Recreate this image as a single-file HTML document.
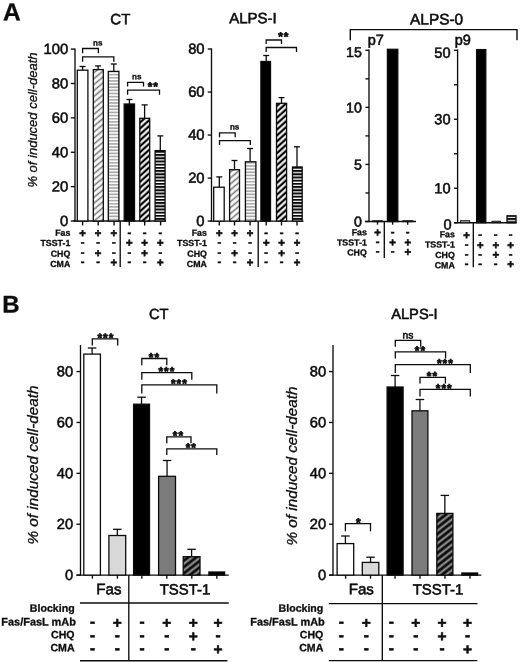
<!DOCTYPE html>
<html><head><meta charset="utf-8"><title>Figure</title>
<style>html,body{margin:0;padding:0;background:#fff}svg{display:block;filter:blur(0.3px)}text{font-family:"Liberation Sans",sans-serif;fill:#0c0c0c}</style>
</head><body>
<svg width="520" height="662" viewBox="0 0 520 662">
<rect width="520" height="662" fill="#fff"/>
<defs>
<pattern id="gd" patternUnits="userSpaceOnUse" width="20" height="4.55" patternTransform="rotate(-40)"><rect width="20" height="4.55" fill="#fff"/><rect y="1.5" width="20" height="1.6" fill="#777"/></pattern>
<pattern id="bd" patternUnits="userSpaceOnUse" width="20" height="4.4" patternTransform="rotate(-42)"><rect width="20" height="4.4" fill="#000"/><rect y="1.1" width="20" height="2.1" fill="#fff"/></pattern>
<pattern id="dd" patternUnits="userSpaceOnUse" width="20" height="5" patternTransform="rotate(-38)"><rect width="20" height="5" fill="#0a0a0a"/><rect y="1.5" width="20" height="2.0" fill="#9c9c9c"/></pattern>
<pattern id="gh" patternUnits="userSpaceOnUse" width="20" height="3.15" y="0.5"><rect width="20" height="3.15" fill="#fff"/><rect y="0.9" width="20" height="1.6" fill="#a6a6a6"/></pattern>
<pattern id="bh" patternUnits="userSpaceOnUse" width="20" height="3.2" y="0.5"><rect width="20" height="3.2" fill="#fff"/><rect y="0" width="20" height="1.95" fill="#0a0a0a"/></pattern>
</defs>
<text transform="translate(3,20.30) rotate(0.03)" font-size="24.5" text-anchor="start" font-weight="bold" font-style="normal" stroke="#0c0c0c" stroke-width="0.3" >A</text>
<text transform="translate(120.3,24.20) rotate(0.03)" font-size="15" text-anchor="middle" font-weight="normal" font-style="normal" stroke="#0c0c0c" stroke-width="0.55" >CT</text>
<text transform="translate(253,23.30) rotate(0.03)" font-size="15" text-anchor="middle" font-weight="normal" font-style="normal" stroke="#0c0c0c" stroke-width="0.55" >ALPS-I</text>
<text transform="translate(436.6,24.60) rotate(0.03)" font-size="15.4" text-anchor="middle" font-weight="normal" font-style="normal" stroke="#0c0c0c" stroke-width="0.55" >ALPS-0</text>
<text transform="translate(36.8,120) rotate(-90)" font-size="13" text-anchor="middle" font-style="italic" stroke="#0c0c0c" stroke-width="0.3">% of induced cell-death</text>
<line x1="75.0" y1="48.4" x2="75.0" y2="221.5" stroke="#0c0c0c" stroke-width="1.35"/>
<line x1="73.5" y1="221.0" x2="166" y2="221.0" stroke="#0c0c0c" stroke-width="1.35"/>
<line x1="70.8" y1="221.0" x2="75.0" y2="221.0" stroke="#0c0c0c" stroke-width="1.35"/>
<text transform="translate(68.3,226.00) rotate(0.03)" font-size="14.8" text-anchor="end" font-weight="normal" font-style="normal" stroke="#0c0c0c" stroke-width="0.55" >0</text>
<line x1="70.8" y1="186.62" x2="75.0" y2="186.62" stroke="#0c0c0c" stroke-width="1.35"/>
<text transform="translate(68.3,191.62) rotate(0.03)" font-size="14.8" text-anchor="end" font-weight="normal" font-style="normal" stroke="#0c0c0c" stroke-width="0.55" >20</text>
<line x1="70.8" y1="152.24" x2="75.0" y2="152.24" stroke="#0c0c0c" stroke-width="1.35"/>
<text transform="translate(68.3,157.24) rotate(0.03)" font-size="14.8" text-anchor="end" font-weight="normal" font-style="normal" stroke="#0c0c0c" stroke-width="0.55" >40</text>
<line x1="70.8" y1="117.86" x2="75.0" y2="117.86" stroke="#0c0c0c" stroke-width="1.35"/>
<text transform="translate(68.3,122.86) rotate(0.03)" font-size="14.8" text-anchor="end" font-weight="normal" font-style="normal" stroke="#0c0c0c" stroke-width="0.55" >60</text>
<line x1="70.8" y1="83.47999999999999" x2="75.0" y2="83.47999999999999" stroke="#0c0c0c" stroke-width="1.35"/>
<text transform="translate(68.3,88.48) rotate(0.03)" font-size="14.8" text-anchor="end" font-weight="normal" font-style="normal" stroke="#0c0c0c" stroke-width="0.55" >80</text>
<line x1="70.8" y1="49.099999999999994" x2="75.0" y2="49.099999999999994" stroke="#0c0c0c" stroke-width="1.35"/>
<text transform="translate(68.3,54.10) rotate(0.03)" font-size="14.8" text-anchor="end" font-weight="normal" font-style="normal" stroke="#0c0c0c" stroke-width="0.55" >100</text>
<line x1="82.6" y1="66.5" x2="82.6" y2="70.2" stroke="#0c0c0c" stroke-width="1.3"/>
<line x1="79.6" y1="66.5" x2="85.6" y2="66.5" stroke="#0c0c0c" stroke-width="1.3"/>
<rect x="77.30" y="70.20" width="10.60" height="150.80" fill="#fff" stroke="#0c0c0c" stroke-width="1.3"/>
<line x1="82.6" y1="221.0" x2="82.6" y2="225.4" stroke="#0c0c0c" stroke-width="1.4"/>
<line x1="98.1" y1="65.9" x2="98.1" y2="69.6" stroke="#0c0c0c" stroke-width="1.3"/>
<line x1="95.1" y1="65.9" x2="101.1" y2="65.9" stroke="#0c0c0c" stroke-width="1.3"/>
<rect x="93.30" y="69.60" width="10.00" height="151.40" fill="url(#gd)" stroke="#0c0c0c" stroke-width="1.3"/>
<line x1="98.2" y1="221.0" x2="98.2" y2="225.4" stroke="#0c0c0c" stroke-width="1.4"/>
<line x1="113.8" y1="64.0" x2="113.8" y2="71.4" stroke="#0c0c0c" stroke-width="1.3"/>
<line x1="110.8" y1="64.0" x2="116.8" y2="64.0" stroke="#0c0c0c" stroke-width="1.3"/>
<rect x="108.30" y="71.40" width="10.60" height="149.60" fill="url(#gh)" stroke="#0c0c0c" stroke-width="1.3"/>
<line x1="114.0" y1="221.0" x2="114.0" y2="225.4" stroke="#0c0c0c" stroke-width="1.4"/>
<line x1="129.4" y1="99.5" x2="129.4" y2="104.0" stroke="#0c0c0c" stroke-width="1.3"/>
<line x1="126.4" y1="99.5" x2="132.4" y2="99.5" stroke="#0c0c0c" stroke-width="1.3"/>
<rect x="124.20" y="104.00" width="10.30" height="117.00" fill="#000" stroke="#0c0c0c" stroke-width="1.3"/>
<line x1="129.3" y1="221.0" x2="129.3" y2="225.4" stroke="#0c0c0c" stroke-width="1.4"/>
<line x1="144.6" y1="104.9" x2="144.6" y2="118.3" stroke="#0c0c0c" stroke-width="1.3"/>
<line x1="141.6" y1="104.9" x2="147.6" y2="104.9" stroke="#0c0c0c" stroke-width="1.3"/>
<rect x="139.80" y="118.30" width="9.90" height="102.70" fill="url(#bd)" stroke="#0c0c0c" stroke-width="1.3"/>
<line x1="144.7" y1="221.0" x2="144.7" y2="225.4" stroke="#0c0c0c" stroke-width="1.4"/>
<line x1="160.3" y1="135.9" x2="160.3" y2="150.6" stroke="#0c0c0c" stroke-width="1.3"/>
<line x1="157.3" y1="135.9" x2="163.3" y2="135.9" stroke="#0c0c0c" stroke-width="1.3"/>
<rect x="155.10" y="150.60" width="10.00" height="70.40" fill="url(#bh)" stroke="#0c0c0c" stroke-width="1.3"/>
<line x1="160.6" y1="221.0" x2="160.6" y2="225.4" stroke="#0c0c0c" stroke-width="1.4"/>
<polyline points="82.6,53.2 82.6,48.5 98.4,48.5 98.4,53.2" fill="none" stroke="#0c0c0c" stroke-width="1.3"/>
<text transform="translate(97.7,45.60) rotate(0.03)" font-size="8.1" text-anchor="middle" font-weight="bold" font-style="normal" stroke="#0c0c0c" stroke-width="0.3" >ns</text>
<polyline points="82.6,61.8 82.6,56.8 113.8,56.8 113.8,61.8" fill="none" stroke="#0c0c0c" stroke-width="1.3"/>
<polyline points="127.6,86.6 127.6,82.3 143.5,82.3 143.5,86.6" fill="none" stroke="#0c0c0c" stroke-width="1.3"/>
<text transform="translate(136.8,79.20) rotate(0.03)" font-size="8.1" text-anchor="middle" font-weight="bold" font-style="normal" stroke="#0c0c0c" stroke-width="0.3" >ns</text>
<polyline points="127.6,94.7 127.6,90.1 159.5,90.1 159.5,94.7" fill="none" stroke="#0c0c0c" stroke-width="1.3"/>
<text transform="translate(153.3,90.50) rotate(0.03)" font-size="11.8" text-anchor="middle" font-weight="bold" font-style="normal"  stroke="#0c0c0c" stroke-width="0.7" letter-spacing="0.9">**</text>
<line x1="120.2" y1="221.0" x2="120.2" y2="267" stroke="#0c0c0c" stroke-width="1.35"/>
<text transform="translate(70.3,235.80) rotate(0.03)" font-size="8.8" text-anchor="end" font-weight="bold" font-style="normal" stroke="#0c0c0c" stroke-width="0.3" >Fas</text>
<text transform="translate(70.3,245.90) rotate(0.03)" font-size="8.8" text-anchor="end" font-weight="bold" font-style="normal" stroke="#0c0c0c" stroke-width="0.3" >TSST-1</text>
<text transform="translate(70.3,256.80) rotate(0.03)" font-size="8.8" text-anchor="end" font-weight="bold" font-style="normal" stroke="#0c0c0c" stroke-width="0.3" >CHQ</text>
<text transform="translate(70.3,267.00) rotate(0.03)" font-size="8.8" text-anchor="end" font-weight="bold" font-style="normal" stroke="#0c0c0c" stroke-width="0.3" >CMA</text>
<text transform="translate(82.6,237.05) rotate(0.03)" font-size="11.33" text-anchor="middle" font-weight="bold" font-style="normal"  stroke="#0c0c0c" stroke-width="0.55">+</text>
<text transform="translate(98.1,237.05) rotate(0.03)" font-size="11.33" text-anchor="middle" font-weight="bold" font-style="normal"  stroke="#0c0c0c" stroke-width="0.55">+</text>
<text transform="translate(113.8,237.05) rotate(0.03)" font-size="11.33" text-anchor="middle" font-weight="bold" font-style="normal"  stroke="#0c0c0c" stroke-width="0.55">+</text>
<text transform="translate(129.4,236.14) rotate(0.03)" font-size="11.22" text-anchor="middle" font-weight="bold" font-style="normal"  stroke="#0c0c0c" stroke-width="0.55">-</text>
<text transform="translate(144.6,236.14) rotate(0.03)" font-size="11.22" text-anchor="middle" font-weight="bold" font-style="normal"  stroke="#0c0c0c" stroke-width="0.55">-</text>
<text transform="translate(160.3,236.14) rotate(0.03)" font-size="11.22" text-anchor="middle" font-weight="bold" font-style="normal"  stroke="#0c0c0c" stroke-width="0.55">-</text>
<text transform="translate(82.6,245.64) rotate(0.03)" font-size="11.22" text-anchor="middle" font-weight="bold" font-style="normal"  stroke="#0c0c0c" stroke-width="0.55">-</text>
<text transform="translate(98.1,245.64) rotate(0.03)" font-size="11.22" text-anchor="middle" font-weight="bold" font-style="normal"  stroke="#0c0c0c" stroke-width="0.55">-</text>
<text transform="translate(113.8,245.64) rotate(0.03)" font-size="11.22" text-anchor="middle" font-weight="bold" font-style="normal"  stroke="#0c0c0c" stroke-width="0.55">-</text>
<text transform="translate(129.4,246.55) rotate(0.03)" font-size="11.33" text-anchor="middle" font-weight="bold" font-style="normal"  stroke="#0c0c0c" stroke-width="0.55">+</text>
<text transform="translate(144.6,246.55) rotate(0.03)" font-size="11.33" text-anchor="middle" font-weight="bold" font-style="normal"  stroke="#0c0c0c" stroke-width="0.55">+</text>
<text transform="translate(160.3,246.55) rotate(0.03)" font-size="11.33" text-anchor="middle" font-weight="bold" font-style="normal"  stroke="#0c0c0c" stroke-width="0.55">+</text>
<text transform="translate(82.6,256.04) rotate(0.03)" font-size="11.22" text-anchor="middle" font-weight="bold" font-style="normal"  stroke="#0c0c0c" stroke-width="0.55">-</text>
<text transform="translate(98.1,256.95) rotate(0.03)" font-size="11.33" text-anchor="middle" font-weight="bold" font-style="normal"  stroke="#0c0c0c" stroke-width="0.55">+</text>
<text transform="translate(113.8,256.04) rotate(0.03)" font-size="11.22" text-anchor="middle" font-weight="bold" font-style="normal"  stroke="#0c0c0c" stroke-width="0.55">-</text>
<text transform="translate(129.4,256.04) rotate(0.03)" font-size="11.22" text-anchor="middle" font-weight="bold" font-style="normal"  stroke="#0c0c0c" stroke-width="0.55">-</text>
<text transform="translate(144.6,256.95) rotate(0.03)" font-size="11.33" text-anchor="middle" font-weight="bold" font-style="normal"  stroke="#0c0c0c" stroke-width="0.55">+</text>
<text transform="translate(160.3,256.04) rotate(0.03)" font-size="11.22" text-anchor="middle" font-weight="bold" font-style="normal"  stroke="#0c0c0c" stroke-width="0.55">-</text>
<text transform="translate(82.6,265.24) rotate(0.03)" font-size="11.22" text-anchor="middle" font-weight="bold" font-style="normal"  stroke="#0c0c0c" stroke-width="0.55">-</text>
<text transform="translate(98.1,265.24) rotate(0.03)" font-size="11.22" text-anchor="middle" font-weight="bold" font-style="normal"  stroke="#0c0c0c" stroke-width="0.55">-</text>
<text transform="translate(113.8,266.15) rotate(0.03)" font-size="11.33" text-anchor="middle" font-weight="bold" font-style="normal"  stroke="#0c0c0c" stroke-width="0.55">+</text>
<text transform="translate(129.4,265.24) rotate(0.03)" font-size="11.22" text-anchor="middle" font-weight="bold" font-style="normal"  stroke="#0c0c0c" stroke-width="0.55">-</text>
<text transform="translate(144.6,265.24) rotate(0.03)" font-size="11.22" text-anchor="middle" font-weight="bold" font-style="normal"  stroke="#0c0c0c" stroke-width="0.55">-</text>
<text transform="translate(160.3,266.15) rotate(0.03)" font-size="11.33" text-anchor="middle" font-weight="bold" font-style="normal"  stroke="#0c0c0c" stroke-width="0.55">+</text>
<line x1="211.5" y1="48.4" x2="211.5" y2="221.6" stroke="#0c0c0c" stroke-width="1.35"/>
<line x1="210.0" y1="221.1" x2="303.5" y2="221.1" stroke="#0c0c0c" stroke-width="1.35"/>
<line x1="207.7" y1="221.1" x2="211.5" y2="221.1" stroke="#0c0c0c" stroke-width="1.35"/>
<text transform="translate(204.6,225.90) rotate(0.03)" font-size="14.8" text-anchor="end" font-weight="normal" font-style="normal" stroke="#0c0c0c" stroke-width="0.55" >0</text>
<line x1="207.7" y1="178.07999999999998" x2="211.5" y2="178.07999999999998" stroke="#0c0c0c" stroke-width="1.35"/>
<text transform="translate(204.6,182.88) rotate(0.03)" font-size="14.8" text-anchor="end" font-weight="normal" font-style="normal" stroke="#0c0c0c" stroke-width="0.55" >20</text>
<line x1="207.7" y1="135.06" x2="211.5" y2="135.06" stroke="#0c0c0c" stroke-width="1.35"/>
<text transform="translate(204.6,139.86) rotate(0.03)" font-size="14.8" text-anchor="end" font-weight="normal" font-style="normal" stroke="#0c0c0c" stroke-width="0.55" >40</text>
<line x1="207.7" y1="92.03999999999999" x2="211.5" y2="92.03999999999999" stroke="#0c0c0c" stroke-width="1.35"/>
<text transform="translate(204.6,96.84) rotate(0.03)" font-size="14.8" text-anchor="end" font-weight="normal" font-style="normal" stroke="#0c0c0c" stroke-width="0.55" >60</text>
<line x1="207.7" y1="49.02000000000001" x2="211.5" y2="49.02000000000001" stroke="#0c0c0c" stroke-width="1.35"/>
<text transform="translate(204.6,53.82) rotate(0.03)" font-size="14.8" text-anchor="end" font-weight="normal" font-style="normal" stroke="#0c0c0c" stroke-width="0.55" >80</text>
<line x1="219.3" y1="176.9" x2="219.3" y2="187.2" stroke="#0c0c0c" stroke-width="1.3"/>
<line x1="216.3" y1="176.9" x2="222.3" y2="176.9" stroke="#0c0c0c" stroke-width="1.3"/>
<rect x="213.70" y="187.20" width="10.50" height="33.90" fill="#fff" stroke="#0c0c0c" stroke-width="1.3"/>
<line x1="219.3" y1="221.1" x2="219.3" y2="225.5" stroke="#0c0c0c" stroke-width="1.4"/>
<line x1="234.5" y1="160.5" x2="234.5" y2="169.7" stroke="#0c0c0c" stroke-width="1.3"/>
<line x1="231.5" y1="160.5" x2="237.5" y2="160.5" stroke="#0c0c0c" stroke-width="1.3"/>
<rect x="229.60" y="169.70" width="9.90" height="51.40" fill="url(#gd)" stroke="#0c0c0c" stroke-width="1.3"/>
<line x1="234.5" y1="221.1" x2="234.5" y2="225.5" stroke="#0c0c0c" stroke-width="1.4"/>
<line x1="250.1" y1="148.5" x2="250.1" y2="161.8" stroke="#0c0c0c" stroke-width="1.3"/>
<line x1="247.1" y1="148.5" x2="253.1" y2="148.5" stroke="#0c0c0c" stroke-width="1.3"/>
<rect x="245.40" y="161.80" width="10.50" height="59.30" fill="url(#gh)" stroke="#0c0c0c" stroke-width="1.3"/>
<line x1="250.1" y1="221.1" x2="250.1" y2="225.5" stroke="#0c0c0c" stroke-width="1.4"/>
<line x1="266.2" y1="55.5" x2="266.2" y2="61.5" stroke="#0c0c0c" stroke-width="1.3"/>
<line x1="263.2" y1="55.5" x2="269.2" y2="55.5" stroke="#0c0c0c" stroke-width="1.3"/>
<rect x="260.90" y="61.50" width="9.60" height="159.60" fill="#000" stroke="#0c0c0c" stroke-width="1.3"/>
<line x1="266.2" y1="221.1" x2="266.2" y2="225.5" stroke="#0c0c0c" stroke-width="1.4"/>
<line x1="281.5" y1="97.6" x2="281.5" y2="103.3" stroke="#0c0c0c" stroke-width="1.3"/>
<line x1="278.5" y1="97.6" x2="284.5" y2="97.6" stroke="#0c0c0c" stroke-width="1.3"/>
<rect x="276.50" y="103.30" width="10.10" height="117.80" fill="url(#bd)" stroke="#0c0c0c" stroke-width="1.3"/>
<line x1="281.5" y1="221.1" x2="281.5" y2="225.5" stroke="#0c0c0c" stroke-width="1.4"/>
<line x1="297.0" y1="146.8" x2="297.0" y2="167.0" stroke="#0c0c0c" stroke-width="1.3"/>
<line x1="294.0" y1="146.8" x2="300.0" y2="146.8" stroke="#0c0c0c" stroke-width="1.3"/>
<rect x="292.50" y="167.00" width="9.70" height="54.10" fill="url(#bh)" stroke="#0c0c0c" stroke-width="1.3"/>
<line x1="297.0" y1="221.1" x2="297.0" y2="225.5" stroke="#0c0c0c" stroke-width="1.4"/>
<polyline points="219.5,137.2 219.5,132.9 235.2,132.9 235.2,137.2" fill="none" stroke="#0c0c0c" stroke-width="1.3"/>
<text transform="translate(234.6,129.60) rotate(0.03)" font-size="8.1" text-anchor="middle" font-weight="bold" font-style="normal" stroke="#0c0c0c" stroke-width="0.3" >ns</text>
<polyline points="219.5,145.1 219.5,140.7 250.3,140.7 250.3,145.1" fill="none" stroke="#0c0c0c" stroke-width="1.3"/>
<polyline points="266.2,44.0 266.2,40.0 281.5,40.0 281.5,44.0" fill="none" stroke="#0c0c0c" stroke-width="1.3"/>
<text transform="translate(283.8,40.60) rotate(0.03)" font-size="11.8" text-anchor="middle" font-weight="bold" font-style="normal"  stroke="#0c0c0c" stroke-width="0.7" letter-spacing="0.9">**</text>
<polyline points="266.2,51.9 266.2,47.5 296.5,47.5 296.5,51.9" fill="none" stroke="#0c0c0c" stroke-width="1.3"/>
<line x1="258.2" y1="221.1" x2="258.2" y2="267" stroke="#0c0c0c" stroke-width="1.35"/>
<text transform="translate(206.9,235.80) rotate(0.03)" font-size="8.8" text-anchor="end" font-weight="bold" font-style="normal" stroke="#0c0c0c" stroke-width="0.3" >Fas</text>
<text transform="translate(206.9,245.90) rotate(0.03)" font-size="8.8" text-anchor="end" font-weight="bold" font-style="normal" stroke="#0c0c0c" stroke-width="0.3" >TSST-1</text>
<text transform="translate(206.9,256.80) rotate(0.03)" font-size="8.8" text-anchor="end" font-weight="bold" font-style="normal" stroke="#0c0c0c" stroke-width="0.3" >CHQ</text>
<text transform="translate(206.9,267.00) rotate(0.03)" font-size="8.8" text-anchor="end" font-weight="bold" font-style="normal" stroke="#0c0c0c" stroke-width="0.3" >CMA</text>
<text transform="translate(219.3,237.05) rotate(0.03)" font-size="11.33" text-anchor="middle" font-weight="bold" font-style="normal"  stroke="#0c0c0c" stroke-width="0.55">+</text>
<text transform="translate(234.5,237.05) rotate(0.03)" font-size="11.33" text-anchor="middle" font-weight="bold" font-style="normal"  stroke="#0c0c0c" stroke-width="0.55">+</text>
<text transform="translate(250.1,237.05) rotate(0.03)" font-size="11.33" text-anchor="middle" font-weight="bold" font-style="normal"  stroke="#0c0c0c" stroke-width="0.55">+</text>
<text transform="translate(266.2,236.14) rotate(0.03)" font-size="11.22" text-anchor="middle" font-weight="bold" font-style="normal"  stroke="#0c0c0c" stroke-width="0.55">-</text>
<text transform="translate(281.5,236.14) rotate(0.03)" font-size="11.22" text-anchor="middle" font-weight="bold" font-style="normal"  stroke="#0c0c0c" stroke-width="0.55">-</text>
<text transform="translate(297.0,236.14) rotate(0.03)" font-size="11.22" text-anchor="middle" font-weight="bold" font-style="normal"  stroke="#0c0c0c" stroke-width="0.55">-</text>
<text transform="translate(219.3,245.64) rotate(0.03)" font-size="11.22" text-anchor="middle" font-weight="bold" font-style="normal"  stroke="#0c0c0c" stroke-width="0.55">-</text>
<text transform="translate(234.5,245.64) rotate(0.03)" font-size="11.22" text-anchor="middle" font-weight="bold" font-style="normal"  stroke="#0c0c0c" stroke-width="0.55">-</text>
<text transform="translate(250.1,245.64) rotate(0.03)" font-size="11.22" text-anchor="middle" font-weight="bold" font-style="normal"  stroke="#0c0c0c" stroke-width="0.55">-</text>
<text transform="translate(266.2,246.55) rotate(0.03)" font-size="11.33" text-anchor="middle" font-weight="bold" font-style="normal"  stroke="#0c0c0c" stroke-width="0.55">+</text>
<text transform="translate(281.5,246.55) rotate(0.03)" font-size="11.33" text-anchor="middle" font-weight="bold" font-style="normal"  stroke="#0c0c0c" stroke-width="0.55">+</text>
<text transform="translate(297.0,246.55) rotate(0.03)" font-size="11.33" text-anchor="middle" font-weight="bold" font-style="normal"  stroke="#0c0c0c" stroke-width="0.55">+</text>
<text transform="translate(219.3,256.04) rotate(0.03)" font-size="11.22" text-anchor="middle" font-weight="bold" font-style="normal"  stroke="#0c0c0c" stroke-width="0.55">-</text>
<text transform="translate(234.5,256.95) rotate(0.03)" font-size="11.33" text-anchor="middle" font-weight="bold" font-style="normal"  stroke="#0c0c0c" stroke-width="0.55">+</text>
<text transform="translate(250.1,256.04) rotate(0.03)" font-size="11.22" text-anchor="middle" font-weight="bold" font-style="normal"  stroke="#0c0c0c" stroke-width="0.55">-</text>
<text transform="translate(266.2,256.04) rotate(0.03)" font-size="11.22" text-anchor="middle" font-weight="bold" font-style="normal"  stroke="#0c0c0c" stroke-width="0.55">-</text>
<text transform="translate(281.5,256.95) rotate(0.03)" font-size="11.33" text-anchor="middle" font-weight="bold" font-style="normal"  stroke="#0c0c0c" stroke-width="0.55">+</text>
<text transform="translate(297.0,256.04) rotate(0.03)" font-size="11.22" text-anchor="middle" font-weight="bold" font-style="normal"  stroke="#0c0c0c" stroke-width="0.55">-</text>
<text transform="translate(219.3,265.24) rotate(0.03)" font-size="11.22" text-anchor="middle" font-weight="bold" font-style="normal"  stroke="#0c0c0c" stroke-width="0.55">-</text>
<text transform="translate(234.5,265.24) rotate(0.03)" font-size="11.22" text-anchor="middle" font-weight="bold" font-style="normal"  stroke="#0c0c0c" stroke-width="0.55">-</text>
<text transform="translate(250.1,266.15) rotate(0.03)" font-size="11.33" text-anchor="middle" font-weight="bold" font-style="normal"  stroke="#0c0c0c" stroke-width="0.55">+</text>
<text transform="translate(266.2,265.24) rotate(0.03)" font-size="11.22" text-anchor="middle" font-weight="bold" font-style="normal"  stroke="#0c0c0c" stroke-width="0.55">-</text>
<text transform="translate(281.5,265.24) rotate(0.03)" font-size="11.22" text-anchor="middle" font-weight="bold" font-style="normal"  stroke="#0c0c0c" stroke-width="0.55">-</text>
<text transform="translate(297.0,266.15) rotate(0.03)" font-size="11.33" text-anchor="middle" font-weight="bold" font-style="normal"  stroke="#0c0c0c" stroke-width="0.55">+</text>
<polyline points="350.3,40.2 350.3,29.6 517,29.6 517,40.2" fill="none" stroke="#0c0c0c" stroke-width="1.4"/>
<text transform="translate(367.8,44.80) rotate(0.03)" font-size="14.5" text-anchor="start" font-weight="normal" font-style="normal" stroke="#0c0c0c" stroke-width="0.55" >p7</text>
<text transform="translate(454.8,44.80) rotate(0.03)" font-size="14.5" text-anchor="start" font-weight="normal" font-style="normal" stroke="#0c0c0c" stroke-width="0.55" >p9</text>
<line x1="369.0" y1="49.5" x2="369.0" y2="222.0" stroke="#0c0c0c" stroke-width="1.35"/>
<line x1="365.0" y1="221.5" x2="416" y2="221.5" stroke="#0c0c0c" stroke-width="1.35"/>
<line x1="365.4" y1="221.5" x2="369.0" y2="221.5" stroke="#0c0c0c" stroke-width="1.35"/>
<line x1="365.4" y1="192.96666666666667" x2="369.0" y2="192.96666666666667" stroke="#0c0c0c" stroke-width="1.35"/>
<line x1="365.4" y1="164.43333333333334" x2="369.0" y2="164.43333333333334" stroke="#0c0c0c" stroke-width="1.35"/>
<line x1="365.4" y1="135.9" x2="369.0" y2="135.9" stroke="#0c0c0c" stroke-width="1.35"/>
<line x1="365.4" y1="107.36666666666667" x2="369.0" y2="107.36666666666667" stroke="#0c0c0c" stroke-width="1.35"/>
<line x1="365.4" y1="78.83333333333334" x2="369.0" y2="78.83333333333334" stroke="#0c0c0c" stroke-width="1.35"/>
<line x1="365.4" y1="50.30000000000001" x2="369.0" y2="50.30000000000001" stroke="#0c0c0c" stroke-width="1.35"/>
<text transform="translate(361.8,226.60) rotate(0.03)" font-size="14.2" text-anchor="end" font-weight="normal" font-style="normal" stroke="#0c0c0c" stroke-width="0.55" >0</text>
<text transform="translate(361.8,169.53) rotate(0.03)" font-size="14.2" text-anchor="end" font-weight="normal" font-style="normal" stroke="#0c0c0c" stroke-width="0.55" >5</text>
<text transform="translate(361.8,112.47) rotate(0.03)" font-size="14.2" text-anchor="end" font-weight="normal" font-style="normal" stroke="#0c0c0c" stroke-width="0.55" >10</text>
<text transform="translate(361.8,57.00) rotate(0.03)" font-size="14.2" text-anchor="end" font-weight="normal" font-style="normal" stroke="#0c0c0c" stroke-width="0.55" >15</text>
<rect x="387.40" y="49.30" width="10.40" height="172.20" fill="#000" stroke="#0c0c0c" stroke-width="1.3"/>
<rect x="372.90" y="220.90" width="9.30" height="0.60" fill="#bbb" stroke="#0c0c0c" stroke-width="1.3"/>
<rect x="403.00" y="220.90" width="9.70" height="0.60" fill="#bbb" stroke="#0c0c0c" stroke-width="1.3"/>
<line x1="377.5" y1="221.5" x2="377.5" y2="224.7" stroke="#0c0c0c" stroke-width="1.35"/>
<line x1="392.6" y1="221.5" x2="392.6" y2="224.7" stroke="#0c0c0c" stroke-width="1.35"/>
<line x1="407.7" y1="221.5" x2="407.7" y2="224.7" stroke="#0c0c0c" stroke-width="1.35"/>
<line x1="384.3" y1="221.5" x2="384.3" y2="258" stroke="#0c0c0c" stroke-width="1.35"/>
<text transform="translate(366.8,235.20) rotate(0.03)" font-size="8.8" text-anchor="end" font-weight="bold" font-style="normal" stroke="#0c0c0c" stroke-width="0.3" >Fas</text>
<text transform="translate(366.8,245.50) rotate(0.03)" font-size="8.8" text-anchor="end" font-weight="bold" font-style="normal" stroke="#0c0c0c" stroke-width="0.3" >TSST-1</text>
<text transform="translate(366.8,255.40) rotate(0.03)" font-size="8.8" text-anchor="end" font-weight="bold" font-style="normal" stroke="#0c0c0c" stroke-width="0.3" >CHQ</text>
<text transform="translate(377.5,236.35) rotate(0.03)" font-size="11.33" text-anchor="middle" font-weight="bold" font-style="normal"  stroke="#0c0c0c" stroke-width="0.55">+</text>
<text transform="translate(392.6,235.44) rotate(0.03)" font-size="11.22" text-anchor="middle" font-weight="bold" font-style="normal"  stroke="#0c0c0c" stroke-width="0.55">-</text>
<text transform="translate(407.7,235.44) rotate(0.03)" font-size="11.22" text-anchor="middle" font-weight="bold" font-style="normal"  stroke="#0c0c0c" stroke-width="0.55">-</text>
<text transform="translate(377.5,245.34) rotate(0.03)" font-size="11.22" text-anchor="middle" font-weight="bold" font-style="normal"  stroke="#0c0c0c" stroke-width="0.55">-</text>
<text transform="translate(392.6,246.25) rotate(0.03)" font-size="11.33" text-anchor="middle" font-weight="bold" font-style="normal"  stroke="#0c0c0c" stroke-width="0.55">+</text>
<text transform="translate(407.7,246.25) rotate(0.03)" font-size="11.33" text-anchor="middle" font-weight="bold" font-style="normal"  stroke="#0c0c0c" stroke-width="0.55">+</text>
<text transform="translate(377.5,254.84) rotate(0.03)" font-size="11.22" text-anchor="middle" font-weight="bold" font-style="normal"  stroke="#0c0c0c" stroke-width="0.55">-</text>
<text transform="translate(392.6,254.84) rotate(0.03)" font-size="11.22" text-anchor="middle" font-weight="bold" font-style="normal"  stroke="#0c0c0c" stroke-width="0.55">-</text>
<text transform="translate(407.7,255.75) rotate(0.03)" font-size="11.33" text-anchor="middle" font-weight="bold" font-style="normal"  stroke="#0c0c0c" stroke-width="0.55">+</text>
<line x1="457.6" y1="49.5" x2="457.6" y2="223.2" stroke="#0c0c0c" stroke-width="1.35"/>
<line x1="454.0" y1="222.7" x2="516.6" y2="222.7" stroke="#0c0c0c" stroke-width="1.35"/>
<line x1="454.0" y1="222.7" x2="457.6" y2="222.7" stroke="#0c0c0c" stroke-width="1.35"/>
<line x1="454.0" y1="188.22" x2="457.6" y2="188.22" stroke="#0c0c0c" stroke-width="1.35"/>
<line x1="454.0" y1="153.74" x2="457.6" y2="153.74" stroke="#0c0c0c" stroke-width="1.35"/>
<line x1="454.0" y1="119.26" x2="457.6" y2="119.26" stroke="#0c0c0c" stroke-width="1.35"/>
<line x1="454.0" y1="84.78" x2="457.6" y2="84.78" stroke="#0c0c0c" stroke-width="1.35"/>
<line x1="454.0" y1="50.30000000000001" x2="457.6" y2="50.30000000000001" stroke="#0c0c0c" stroke-width="1.35"/>
<text transform="translate(451.6,229.60) rotate(0.03)" font-size="14.6" text-anchor="end" font-weight="normal" font-style="normal" stroke="#0c0c0c" stroke-width="0.55" >0</text>
<text transform="translate(450.6,193.32) rotate(0.03)" font-size="14.6" text-anchor="end" font-weight="normal" font-style="normal" stroke="#0c0c0c" stroke-width="0.55" >10</text>
<text transform="translate(450.6,124.36) rotate(0.03)" font-size="14.6" text-anchor="end" font-weight="normal" font-style="normal" stroke="#0c0c0c" stroke-width="0.55" >30</text>
<text transform="translate(450.6,57.70) rotate(0.03)" font-size="14.6" text-anchor="end" font-weight="normal" font-style="normal" stroke="#0c0c0c" stroke-width="0.55" >50</text>
<rect x="460.40" y="220.70" width="9.30" height="2.00" fill="#aaa" stroke="#0c0c0c" stroke-width="0.9"/>
<rect x="476.60" y="49.60" width="9.20" height="173.10" fill="#000" stroke="#0c0c0c" stroke-width="1.3"/>
<rect x="492.00" y="221.20" width="8.40" height="1.50" fill="#666" stroke="#0c0c0c" stroke-width="0.9"/>
<rect x="507.00" y="215.80" width="9.00" height="6.90" fill="url(#bh)" stroke="#0c0c0c" stroke-width="1.3"/>
<line x1="473.3" y1="222.7" x2="473.3" y2="267.3" stroke="#0c0c0c" stroke-width="1.35"/>
<text transform="translate(454.8,237.30) rotate(0.03)" font-size="8.8" text-anchor="end" font-weight="bold" font-style="normal" stroke="#0c0c0c" stroke-width="0.3" >Fas</text>
<text transform="translate(454.8,247.40) rotate(0.03)" font-size="8.8" text-anchor="end" font-weight="bold" font-style="normal" stroke="#0c0c0c" stroke-width="0.3" >TSST-1</text>
<text transform="translate(454.8,258.00) rotate(0.03)" font-size="8.8" text-anchor="end" font-weight="bold" font-style="normal" stroke="#0c0c0c" stroke-width="0.3" >CHQ</text>
<text transform="translate(454.8,268.20) rotate(0.03)" font-size="8.8" text-anchor="end" font-weight="bold" font-style="normal" stroke="#0c0c0c" stroke-width="0.3" >CMA</text>
<text transform="translate(466.6,238.95) rotate(0.03)" font-size="11.33" text-anchor="middle" font-weight="bold" font-style="normal"  stroke="#0c0c0c" stroke-width="0.55">+</text>
<text transform="translate(480.2,238.04) rotate(0.03)" font-size="11.22" text-anchor="middle" font-weight="bold" font-style="normal"  stroke="#0c0c0c" stroke-width="0.55">-</text>
<text transform="translate(495.7,238.04) rotate(0.03)" font-size="11.22" text-anchor="middle" font-weight="bold" font-style="normal"  stroke="#0c0c0c" stroke-width="0.55">-</text>
<text transform="translate(510.5,238.04) rotate(0.03)" font-size="11.22" text-anchor="middle" font-weight="bold" font-style="normal"  stroke="#0c0c0c" stroke-width="0.55">-</text>
<text transform="translate(466.6,248.04) rotate(0.03)" font-size="11.22" text-anchor="middle" font-weight="bold" font-style="normal"  stroke="#0c0c0c" stroke-width="0.55">-</text>
<text transform="translate(480.2,248.95) rotate(0.03)" font-size="11.33" text-anchor="middle" font-weight="bold" font-style="normal"  stroke="#0c0c0c" stroke-width="0.55">+</text>
<text transform="translate(495.7,248.95) rotate(0.03)" font-size="11.33" text-anchor="middle" font-weight="bold" font-style="normal"  stroke="#0c0c0c" stroke-width="0.55">+</text>
<text transform="translate(510.5,248.95) rotate(0.03)" font-size="11.33" text-anchor="middle" font-weight="bold" font-style="normal"  stroke="#0c0c0c" stroke-width="0.55">+</text>
<text transform="translate(466.6,257.64) rotate(0.03)" font-size="11.22" text-anchor="middle" font-weight="bold" font-style="normal"  stroke="#0c0c0c" stroke-width="0.55">-</text>
<text transform="translate(480.2,257.64) rotate(0.03)" font-size="11.22" text-anchor="middle" font-weight="bold" font-style="normal"  stroke="#0c0c0c" stroke-width="0.55">-</text>
<text transform="translate(495.7,258.55) rotate(0.03)" font-size="11.33" text-anchor="middle" font-weight="bold" font-style="normal"  stroke="#0c0c0c" stroke-width="0.55">+</text>
<text transform="translate(510.5,257.64) rotate(0.03)" font-size="11.22" text-anchor="middle" font-weight="bold" font-style="normal"  stroke="#0c0c0c" stroke-width="0.55">-</text>
<text transform="translate(466.6,267.14) rotate(0.03)" font-size="11.22" text-anchor="middle" font-weight="bold" font-style="normal"  stroke="#0c0c0c" stroke-width="0.55">-</text>
<text transform="translate(480.2,267.14) rotate(0.03)" font-size="11.22" text-anchor="middle" font-weight="bold" font-style="normal"  stroke="#0c0c0c" stroke-width="0.55">-</text>
<text transform="translate(495.7,267.14) rotate(0.03)" font-size="11.22" text-anchor="middle" font-weight="bold" font-style="normal"  stroke="#0c0c0c" stroke-width="0.55">-</text>
<text transform="translate(510.5,268.05) rotate(0.03)" font-size="11.33" text-anchor="middle" font-weight="bold" font-style="normal"  stroke="#0c0c0c" stroke-width="0.55">+</text>
<text transform="translate(2.2,312.60) rotate(0.03)" font-size="24" text-anchor="start" font-weight="bold" font-style="normal" stroke="#0c0c0c" stroke-width="0.3" >B</text>
<text transform="translate(158.8,318.90) rotate(0.03)" font-size="14.7" text-anchor="middle" font-weight="normal" font-style="normal" stroke="#0c0c0c" stroke-width="0.55" >CT</text>
<text transform="translate(414.4,318.90) rotate(0.03)" font-size="14.7" text-anchor="middle" font-weight="normal" font-style="normal" stroke="#0c0c0c" stroke-width="0.55" >ALPS-I</text>
<text transform="translate(38,465) rotate(-90)" font-size="15.3" text-anchor="middle" font-style="italic" stroke="#0c0c0c" stroke-width="0.3">% of induced cell-death</text>
<text transform="translate(297.0,466) rotate(-90)" font-size="15.3" text-anchor="middle" font-style="italic" stroke="#0c0c0c" stroke-width="0.3">% of induced cell-death</text>
<line x1="80.5" y1="345" x2="80.5" y2="575.6" stroke="#0c0c0c" stroke-width="1.35"/>
<line x1="76.5" y1="575.1" x2="228.7" y2="575.1" stroke="#0c0c0c" stroke-width="1.35"/>
<line x1="76.5" y1="575.1" x2="80.5" y2="575.1" stroke="#0c0c0c" stroke-width="1.35"/>
<text transform="translate(73.2,579.90) rotate(0.03)" font-size="14.7" text-anchor="end" font-weight="normal" font-style="normal" stroke="#0c0c0c" stroke-width="0.55" >0</text>
<line x1="76.5" y1="524.22" x2="80.5" y2="524.22" stroke="#0c0c0c" stroke-width="1.35"/>
<text transform="translate(73.2,529.02) rotate(0.03)" font-size="14.7" text-anchor="end" font-weight="normal" font-style="normal" stroke="#0c0c0c" stroke-width="0.55" >20</text>
<line x1="76.5" y1="473.34000000000003" x2="80.5" y2="473.34000000000003" stroke="#0c0c0c" stroke-width="1.35"/>
<text transform="translate(73.2,478.14) rotate(0.03)" font-size="14.7" text-anchor="end" font-weight="normal" font-style="normal" stroke="#0c0c0c" stroke-width="0.55" >40</text>
<line x1="76.5" y1="422.46000000000004" x2="80.5" y2="422.46000000000004" stroke="#0c0c0c" stroke-width="1.35"/>
<text transform="translate(73.2,427.26) rotate(0.03)" font-size="14.7" text-anchor="end" font-weight="normal" font-style="normal" stroke="#0c0c0c" stroke-width="0.55" >60</text>
<line x1="76.5" y1="371.58000000000004" x2="80.5" y2="371.58000000000004" stroke="#0c0c0c" stroke-width="1.35"/>
<text transform="translate(73.2,376.38) rotate(0.03)" font-size="14.7" text-anchor="end" font-weight="normal" font-style="normal" stroke="#0c0c0c" stroke-width="0.55" >80</text>
<line x1="92.1" y1="348.0" x2="92.1" y2="354.1" stroke="#0c0c0c" stroke-width="1.3"/>
<line x1="87.85" y1="348.0" x2="96.35" y2="348.0" stroke="#0c0c0c" stroke-width="1.3"/>
<rect x="83.80" y="354.10" width="16.60" height="221.00" fill="#fff" stroke="#0c0c0c" stroke-width="1.3"/>
<line x1="117.30000000000001" y1="529.3" x2="117.30000000000001" y2="535.5" stroke="#0c0c0c" stroke-width="1.3"/>
<line x1="113.05000000000001" y1="529.3" x2="121.55000000000001" y2="529.3" stroke="#0c0c0c" stroke-width="1.3"/>
<rect x="108.90" y="535.50" width="16.80" height="39.60" fill="#d9d9d9" stroke="#0c0c0c" stroke-width="1.3"/>
<line x1="141.55" y1="397.2" x2="141.55" y2="404.2" stroke="#0c0c0c" stroke-width="1.3"/>
<line x1="137.3" y1="397.2" x2="145.8" y2="397.2" stroke="#0c0c0c" stroke-width="1.3"/>
<rect x="133.60" y="404.20" width="15.90" height="170.90" fill="#000" stroke="#0c0c0c" stroke-width="1.3"/>
<line x1="167.05" y1="460.5" x2="167.05" y2="476.3" stroke="#0c0c0c" stroke-width="1.3"/>
<line x1="162.8" y1="460.5" x2="171.3" y2="460.5" stroke="#0c0c0c" stroke-width="1.3"/>
<rect x="158.60" y="476.30" width="16.90" height="98.80" fill="#7b7b7b" stroke="#0c0c0c" stroke-width="1.3"/>
<line x1="191.6" y1="549.3" x2="191.6" y2="556.7" stroke="#0c0c0c" stroke-width="1.3"/>
<line x1="187.35" y1="549.3" x2="195.85" y2="549.3" stroke="#0c0c0c" stroke-width="1.3"/>
<rect x="183.20" y="556.70" width="16.80" height="18.40" fill="url(#dd)" stroke="#0c0c0c" stroke-width="1.3"/>
<rect x="208.90" y="572.00" width="15.70" height="3.10" fill="#000" stroke="#0c0c0c" stroke-width="1.3"/>
<line x1="92.4" y1="575.1" x2="92.4" y2="578.7" stroke="#0c0c0c" stroke-width="1.35"/>
<line x1="117.4" y1="575.1" x2="117.4" y2="578.7" stroke="#0c0c0c" stroke-width="1.35"/>
<line x1="141.8" y1="575.1" x2="141.8" y2="578.7" stroke="#0c0c0c" stroke-width="1.35"/>
<line x1="166.8" y1="575.1" x2="166.8" y2="578.7" stroke="#0c0c0c" stroke-width="1.35"/>
<line x1="191.8" y1="575.1" x2="191.8" y2="578.7" stroke="#0c0c0c" stroke-width="1.35"/>
<line x1="216.8" y1="575.1" x2="216.8" y2="578.7" stroke="#0c0c0c" stroke-width="1.35"/>
<polyline points="92.3,345.5 92.3,338.9 117.7,338.9 117.7,345.5" fill="none" stroke="#0c0c0c" stroke-width="1.3"/>
<text transform="translate(105.85000000000001,341.67) rotate(0.03)" font-size="11.8" text-anchor="middle" font-weight="bold" font-style="normal"  stroke="#0c0c0c" stroke-width="0.7" letter-spacing="1.05">***</text>
<polyline points="141.8,365.3 141.8,358.5 166.8,358.5 166.8,365.3" fill="none" stroke="#0c0c0c" stroke-width="1.3"/>
<text transform="translate(154.45,361.27) rotate(0.03)" font-size="11.8" text-anchor="middle" font-weight="bold" font-style="normal"  stroke="#0c0c0c" stroke-width="0.7" letter-spacing="1.05">**</text>
<polyline points="141.8,379.8 141.8,372.6 191.8,372.6 191.8,379.8" fill="none" stroke="#0c0c0c" stroke-width="1.3"/>
<text transform="translate(166.85,375.37) rotate(0.03)" font-size="11.8" text-anchor="middle" font-weight="bold" font-style="normal"  stroke="#0c0c0c" stroke-width="0.7" letter-spacing="1.05">***</text>
<polyline points="141.8,393.6 141.8,384.8 216.8,384.8 216.8,393.6" fill="none" stroke="#0c0c0c" stroke-width="1.3"/>
<text transform="translate(179.45,387.57) rotate(0.03)" font-size="11.8" text-anchor="middle" font-weight="bold" font-style="normal"  stroke="#0c0c0c" stroke-width="0.7" letter-spacing="1.05">***</text>
<polyline points="166.8,443.3 166.8,436.8 191.0,436.8 191.0,443.3" fill="none" stroke="#0c0c0c" stroke-width="1.3"/>
<text transform="translate(178.45,439.57) rotate(0.03)" font-size="11.8" text-anchor="middle" font-weight="bold" font-style="normal"  stroke="#0c0c0c" stroke-width="0.7" letter-spacing="1.05">**</text>
<polyline points="166.8,455 166.8,448.8 216.8,448.8 216.8,455" fill="none" stroke="#0c0c0c" stroke-width="1.3"/>
<text transform="translate(191.35,451.57) rotate(0.03)" font-size="11.8" text-anchor="middle" font-weight="bold" font-style="normal"  stroke="#0c0c0c" stroke-width="0.7" letter-spacing="1.05">**</text>
<text transform="translate(108.9,594.30) rotate(0.03)" font-size="15.1" text-anchor="middle" font-weight="normal" font-style="normal" stroke="#0c0c0c" stroke-width="0.55" >Fas</text>
<text transform="translate(185,594.60) rotate(0.03)" font-size="14.9" text-anchor="middle" font-weight="normal" font-style="normal" stroke="#0c0c0c" stroke-width="0.55" >TSST-1</text>
<line x1="80" y1="603.0" x2="228.7" y2="603.0" stroke="#0c0c0c" stroke-width="1.35"/>
<line x1="80" y1="660.7" x2="227.5" y2="660.7" stroke="#0c0c0c" stroke-width="1.35"/>
<line x1="128.8" y1="575.1" x2="128.8" y2="661" stroke="#0c0c0c" stroke-width="1.35"/>
<text transform="translate(74.6,611.80) rotate(0.03)" font-size="10.6" text-anchor="end" font-weight="bold" font-style="normal" stroke="#0c0c0c" stroke-width="0.3" >Blocking</text>
<text transform="translate(75.9,625.50) rotate(0.03)" font-size="10.95" text-anchor="end" font-weight="bold" font-style="normal" stroke="#0c0c0c" stroke-width="0.3" >Fas/FasL mAb</text>
<text transform="translate(74.6,638.30) rotate(0.03)" font-size="10.6" text-anchor="end" font-weight="bold" font-style="normal" stroke="#0c0c0c" stroke-width="0.3" >CHQ</text>
<text transform="translate(74.6,651.30) rotate(0.03)" font-size="10.6" text-anchor="end" font-weight="bold" font-style="normal" stroke="#0c0c0c" stroke-width="0.3" >CMA</text>
<text transform="translate(92.5,626.81) rotate(0.03)" font-size="15.3" text-anchor="middle" font-weight="bold" font-style="normal"  stroke="#0c0c0c" stroke-width="0.55">-</text>
<text transform="translate(117.3,628.05) rotate(0.03)" font-size="15.450000000000001" text-anchor="middle" font-weight="bold" font-style="normal"  stroke="#0c0c0c" stroke-width="0.55">+</text>
<text transform="translate(142,626.81) rotate(0.03)" font-size="15.3" text-anchor="middle" font-weight="bold" font-style="normal"  stroke="#0c0c0c" stroke-width="0.55">-</text>
<text transform="translate(166.8,628.05) rotate(0.03)" font-size="15.450000000000001" text-anchor="middle" font-weight="bold" font-style="normal"  stroke="#0c0c0c" stroke-width="0.55">+</text>
<text transform="translate(193.2,628.05) rotate(0.03)" font-size="15.450000000000001" text-anchor="middle" font-weight="bold" font-style="normal"  stroke="#0c0c0c" stroke-width="0.55">+</text>
<text transform="translate(218,628.05) rotate(0.03)" font-size="15.450000000000001" text-anchor="middle" font-weight="bold" font-style="normal"  stroke="#0c0c0c" stroke-width="0.55">+</text>
<text transform="translate(92.5,640.31) rotate(0.03)" font-size="15.3" text-anchor="middle" font-weight="bold" font-style="normal"  stroke="#0c0c0c" stroke-width="0.55">-</text>
<text transform="translate(117.3,640.31) rotate(0.03)" font-size="15.3" text-anchor="middle" font-weight="bold" font-style="normal"  stroke="#0c0c0c" stroke-width="0.55">-</text>
<text transform="translate(142,640.31) rotate(0.03)" font-size="15.3" text-anchor="middle" font-weight="bold" font-style="normal"  stroke="#0c0c0c" stroke-width="0.55">-</text>
<text transform="translate(166.8,640.31) rotate(0.03)" font-size="15.3" text-anchor="middle" font-weight="bold" font-style="normal"  stroke="#0c0c0c" stroke-width="0.55">-</text>
<text transform="translate(193.2,641.55) rotate(0.03)" font-size="15.450000000000001" text-anchor="middle" font-weight="bold" font-style="normal"  stroke="#0c0c0c" stroke-width="0.55">+</text>
<text transform="translate(218,640.31) rotate(0.03)" font-size="15.3" text-anchor="middle" font-weight="bold" font-style="normal"  stroke="#0c0c0c" stroke-width="0.55">-</text>
<text transform="translate(92.5,653.31) rotate(0.03)" font-size="15.3" text-anchor="middle" font-weight="bold" font-style="normal"  stroke="#0c0c0c" stroke-width="0.55">-</text>
<text transform="translate(117.3,653.31) rotate(0.03)" font-size="15.3" text-anchor="middle" font-weight="bold" font-style="normal"  stroke="#0c0c0c" stroke-width="0.55">-</text>
<text transform="translate(142,653.31) rotate(0.03)" font-size="15.3" text-anchor="middle" font-weight="bold" font-style="normal"  stroke="#0c0c0c" stroke-width="0.55">-</text>
<text transform="translate(166.8,653.31) rotate(0.03)" font-size="15.3" text-anchor="middle" font-weight="bold" font-style="normal"  stroke="#0c0c0c" stroke-width="0.55">-</text>
<text transform="translate(193.2,653.31) rotate(0.03)" font-size="15.3" text-anchor="middle" font-weight="bold" font-style="normal"  stroke="#0c0c0c" stroke-width="0.55">-</text>
<text transform="translate(218,654.55) rotate(0.03)" font-size="15.450000000000001" text-anchor="middle" font-weight="bold" font-style="normal"  stroke="#0c0c0c" stroke-width="0.55">+</text>
<line x1="333" y1="345" x2="333" y2="575.6" stroke="#0c0c0c" stroke-width="1.35"/>
<line x1="329" y1="575.1" x2="481.3" y2="575.1" stroke="#0c0c0c" stroke-width="1.35"/>
<line x1="329" y1="575.1" x2="333" y2="575.1" stroke="#0c0c0c" stroke-width="1.35"/>
<text transform="translate(326.2,579.90) rotate(0.03)" font-size="14.7" text-anchor="end" font-weight="normal" font-style="normal" stroke="#0c0c0c" stroke-width="0.55" >0</text>
<line x1="329" y1="524.22" x2="333" y2="524.22" stroke="#0c0c0c" stroke-width="1.35"/>
<text transform="translate(326.2,529.02) rotate(0.03)" font-size="14.7" text-anchor="end" font-weight="normal" font-style="normal" stroke="#0c0c0c" stroke-width="0.55" >20</text>
<line x1="329" y1="473.34000000000003" x2="333" y2="473.34000000000003" stroke="#0c0c0c" stroke-width="1.35"/>
<text transform="translate(326.2,478.14) rotate(0.03)" font-size="14.7" text-anchor="end" font-weight="normal" font-style="normal" stroke="#0c0c0c" stroke-width="0.55" >40</text>
<line x1="329" y1="422.46000000000004" x2="333" y2="422.46000000000004" stroke="#0c0c0c" stroke-width="1.35"/>
<text transform="translate(326.2,427.26) rotate(0.03)" font-size="14.7" text-anchor="end" font-weight="normal" font-style="normal" stroke="#0c0c0c" stroke-width="0.55" >60</text>
<line x1="329" y1="371.58000000000004" x2="333" y2="371.58000000000004" stroke="#0c0c0c" stroke-width="1.35"/>
<text transform="translate(326.2,376.38) rotate(0.03)" font-size="14.7" text-anchor="end" font-weight="normal" font-style="normal" stroke="#0c0c0c" stroke-width="0.55" >80</text>
<line x1="345.4" y1="536.0" x2="345.4" y2="543.6" stroke="#0c0c0c" stroke-width="1.3"/>
<line x1="341.15" y1="536.0" x2="349.65" y2="536.0" stroke="#0c0c0c" stroke-width="1.3"/>
<rect x="337.10" y="543.60" width="16.60" height="31.50" fill="#fff" stroke="#0c0c0c" stroke-width="1.3"/>
<line x1="370.55" y1="557.2" x2="370.55" y2="562.4" stroke="#0c0c0c" stroke-width="1.3"/>
<line x1="366.3" y1="557.2" x2="374.8" y2="557.2" stroke="#0c0c0c" stroke-width="1.3"/>
<rect x="362.30" y="562.40" width="16.50" height="12.70" fill="#d9d9d9" stroke="#0c0c0c" stroke-width="1.3"/>
<line x1="395.1" y1="375.5" x2="395.1" y2="387" stroke="#0c0c0c" stroke-width="1.3"/>
<line x1="390.85" y1="375.5" x2="399.35" y2="375.5" stroke="#0c0c0c" stroke-width="1.3"/>
<rect x="387.10" y="387.00" width="16.00" height="188.10" fill="#000" stroke="#0c0c0c" stroke-width="1.3"/>
<line x1="419.95" y1="399.5" x2="419.95" y2="410.8" stroke="#0c0c0c" stroke-width="1.3"/>
<line x1="415.7" y1="399.5" x2="424.2" y2="399.5" stroke="#0c0c0c" stroke-width="1.3"/>
<rect x="412.00" y="410.80" width="15.90" height="164.30" fill="#7b7b7b" stroke="#0c0c0c" stroke-width="1.3"/>
<line x1="444.85" y1="495.4" x2="444.85" y2="513.4" stroke="#0c0c0c" stroke-width="1.3"/>
<line x1="440.6" y1="495.4" x2="449.1" y2="495.4" stroke="#0c0c0c" stroke-width="1.3"/>
<rect x="436.80" y="513.40" width="16.10" height="61.70" fill="url(#dd)" stroke="#0c0c0c" stroke-width="1.3"/>
<rect x="461.90" y="573.00" width="15.70" height="2.10" fill="#000" stroke="#0c0c0c" stroke-width="1.3"/>
<line x1="345.6" y1="575.1" x2="345.6" y2="578.7" stroke="#0c0c0c" stroke-width="1.35"/>
<line x1="370.5" y1="575.1" x2="370.5" y2="578.7" stroke="#0c0c0c" stroke-width="1.35"/>
<line x1="395" y1="575.1" x2="395" y2="578.7" stroke="#0c0c0c" stroke-width="1.35"/>
<line x1="420" y1="575.1" x2="420" y2="578.7" stroke="#0c0c0c" stroke-width="1.35"/>
<line x1="445" y1="575.1" x2="445" y2="578.7" stroke="#0c0c0c" stroke-width="1.35"/>
<line x1="470" y1="575.1" x2="470" y2="578.7" stroke="#0c0c0c" stroke-width="1.35"/>
<polyline points="395.3,346.8 395.3,340.3 420.7,340.3 420.7,346.8" fill="none" stroke="#0c0c0c" stroke-width="1.3"/>
<text transform="translate(408,338.60) rotate(0.03)" font-size="10.3" text-anchor="middle" font-weight="normal" font-style="normal" stroke="#0c0c0c" stroke-width="0.55" >ns</text>
<polyline points="395.3,358.5 395.3,351.8 445.6,351.8 445.6,358.5" fill="none" stroke="#0c0c0c" stroke-width="1.3"/>
<text transform="translate(420.45,354.57) rotate(0.03)" font-size="11.8" text-anchor="middle" font-weight="bold" font-style="normal"  stroke="#0c0c0c" stroke-width="0.7" letter-spacing="1.05">**</text>
<polyline points="395.3,373 395.3,364.6 470.3,364.6 470.3,373" fill="none" stroke="#0c0c0c" stroke-width="1.3"/>
<text transform="translate(445.45,367.37) rotate(0.03)" font-size="11.8" text-anchor="middle" font-weight="bold" font-style="normal"  stroke="#0c0c0c" stroke-width="0.7" letter-spacing="1.05">***</text>
<polyline points="420,383.5 420,377.3 445.4,377.3 445.4,383.5" fill="none" stroke="#0c0c0c" stroke-width="1.3"/>
<text transform="translate(432.45,380.07) rotate(0.03)" font-size="11.8" text-anchor="middle" font-weight="bold" font-style="normal"  stroke="#0c0c0c" stroke-width="0.7" letter-spacing="1.05">**</text>
<polyline points="420,396.5 420,389.4 470.3,389.4 470.3,396.5" fill="none" stroke="#0c0c0c" stroke-width="1.3"/>
<text transform="translate(444.25,392.17) rotate(0.03)" font-size="11.8" text-anchor="middle" font-weight="bold" font-style="normal"  stroke="#0c0c0c" stroke-width="0.7" letter-spacing="1.05">***</text>
<polyline points="345.4,531.2 345.4,523.7 370.5,523.7 370.5,531.2" fill="none" stroke="#0c0c0c" stroke-width="1.3"/>
<text transform="translate(358.95,526.47) rotate(0.03)" font-size="11.8" text-anchor="middle" font-weight="bold" font-style="normal"  stroke="#0c0c0c" stroke-width="0.7" letter-spacing="1.05">*</text>
<text transform="translate(361.3,594.30) rotate(0.03)" font-size="15.1" text-anchor="middle" font-weight="normal" font-style="normal" stroke="#0c0c0c" stroke-width="0.55" >Fas</text>
<text transform="translate(438,594.60) rotate(0.03)" font-size="14.9" text-anchor="middle" font-weight="normal" font-style="normal" stroke="#0c0c0c" stroke-width="0.55" >TSST-1</text>
<line x1="328.8" y1="603.6" x2="477.5" y2="603.6" stroke="#0c0c0c" stroke-width="1.35"/>
<line x1="328.8" y1="660.6" x2="477.3" y2="660.6" stroke="#0c0c0c" stroke-width="1.35"/>
<line x1="382.3" y1="575.1" x2="382.3" y2="661" stroke="#0c0c0c" stroke-width="1.35"/>
<text transform="translate(323.3,611.80) rotate(0.03)" font-size="10.6" text-anchor="end" font-weight="bold" font-style="normal" stroke="#0c0c0c" stroke-width="0.3" >Blocking</text>
<text transform="translate(324.8,625.50) rotate(0.03)" font-size="10.95" text-anchor="end" font-weight="bold" font-style="normal" stroke="#0c0c0c" stroke-width="0.3" >Fas/FasL mAb</text>
<text transform="translate(323.3,638.30) rotate(0.03)" font-size="10.6" text-anchor="end" font-weight="bold" font-style="normal" stroke="#0c0c0c" stroke-width="0.3" >CHQ</text>
<text transform="translate(323.3,651.30) rotate(0.03)" font-size="10.6" text-anchor="end" font-weight="bold" font-style="normal" stroke="#0c0c0c" stroke-width="0.3" >CMA</text>
<text transform="translate(341.3,626.81) rotate(0.03)" font-size="15.3" text-anchor="middle" font-weight="bold" font-style="normal"  stroke="#0c0c0c" stroke-width="0.55">-</text>
<text transform="translate(366.3,628.05) rotate(0.03)" font-size="15.450000000000001" text-anchor="middle" font-weight="bold" font-style="normal"  stroke="#0c0c0c" stroke-width="0.55">+</text>
<text transform="translate(391.3,626.81) rotate(0.03)" font-size="15.3" text-anchor="middle" font-weight="bold" font-style="normal"  stroke="#0c0c0c" stroke-width="0.55">-</text>
<text transform="translate(415.8,628.05) rotate(0.03)" font-size="15.450000000000001" text-anchor="middle" font-weight="bold" font-style="normal"  stroke="#0c0c0c" stroke-width="0.55">+</text>
<text transform="translate(442,628.05) rotate(0.03)" font-size="15.450000000000001" text-anchor="middle" font-weight="bold" font-style="normal"  stroke="#0c0c0c" stroke-width="0.55">+</text>
<text transform="translate(467.5,628.05) rotate(0.03)" font-size="15.450000000000001" text-anchor="middle" font-weight="bold" font-style="normal"  stroke="#0c0c0c" stroke-width="0.55">+</text>
<text transform="translate(341.3,640.31) rotate(0.03)" font-size="15.3" text-anchor="middle" font-weight="bold" font-style="normal"  stroke="#0c0c0c" stroke-width="0.55">-</text>
<text transform="translate(366.3,640.31) rotate(0.03)" font-size="15.3" text-anchor="middle" font-weight="bold" font-style="normal"  stroke="#0c0c0c" stroke-width="0.55">-</text>
<text transform="translate(391.3,640.31) rotate(0.03)" font-size="15.3" text-anchor="middle" font-weight="bold" font-style="normal"  stroke="#0c0c0c" stroke-width="0.55">-</text>
<text transform="translate(415.8,640.31) rotate(0.03)" font-size="15.3" text-anchor="middle" font-weight="bold" font-style="normal"  stroke="#0c0c0c" stroke-width="0.55">-</text>
<text transform="translate(442,641.55) rotate(0.03)" font-size="15.450000000000001" text-anchor="middle" font-weight="bold" font-style="normal"  stroke="#0c0c0c" stroke-width="0.55">+</text>
<text transform="translate(467.5,640.31) rotate(0.03)" font-size="15.3" text-anchor="middle" font-weight="bold" font-style="normal"  stroke="#0c0c0c" stroke-width="0.55">-</text>
<text transform="translate(341.3,653.31) rotate(0.03)" font-size="15.3" text-anchor="middle" font-weight="bold" font-style="normal"  stroke="#0c0c0c" stroke-width="0.55">-</text>
<text transform="translate(366.3,653.31) rotate(0.03)" font-size="15.3" text-anchor="middle" font-weight="bold" font-style="normal"  stroke="#0c0c0c" stroke-width="0.55">-</text>
<text transform="translate(391.3,653.31) rotate(0.03)" font-size="15.3" text-anchor="middle" font-weight="bold" font-style="normal"  stroke="#0c0c0c" stroke-width="0.55">-</text>
<text transform="translate(415.8,653.31) rotate(0.03)" font-size="15.3" text-anchor="middle" font-weight="bold" font-style="normal"  stroke="#0c0c0c" stroke-width="0.55">-</text>
<text transform="translate(442,653.31) rotate(0.03)" font-size="15.3" text-anchor="middle" font-weight="bold" font-style="normal"  stroke="#0c0c0c" stroke-width="0.55">-</text>
<text transform="translate(467.5,654.55) rotate(0.03)" font-size="15.450000000000001" text-anchor="middle" font-weight="bold" font-style="normal"  stroke="#0c0c0c" stroke-width="0.55">+</text>
</svg>
</body></html>
